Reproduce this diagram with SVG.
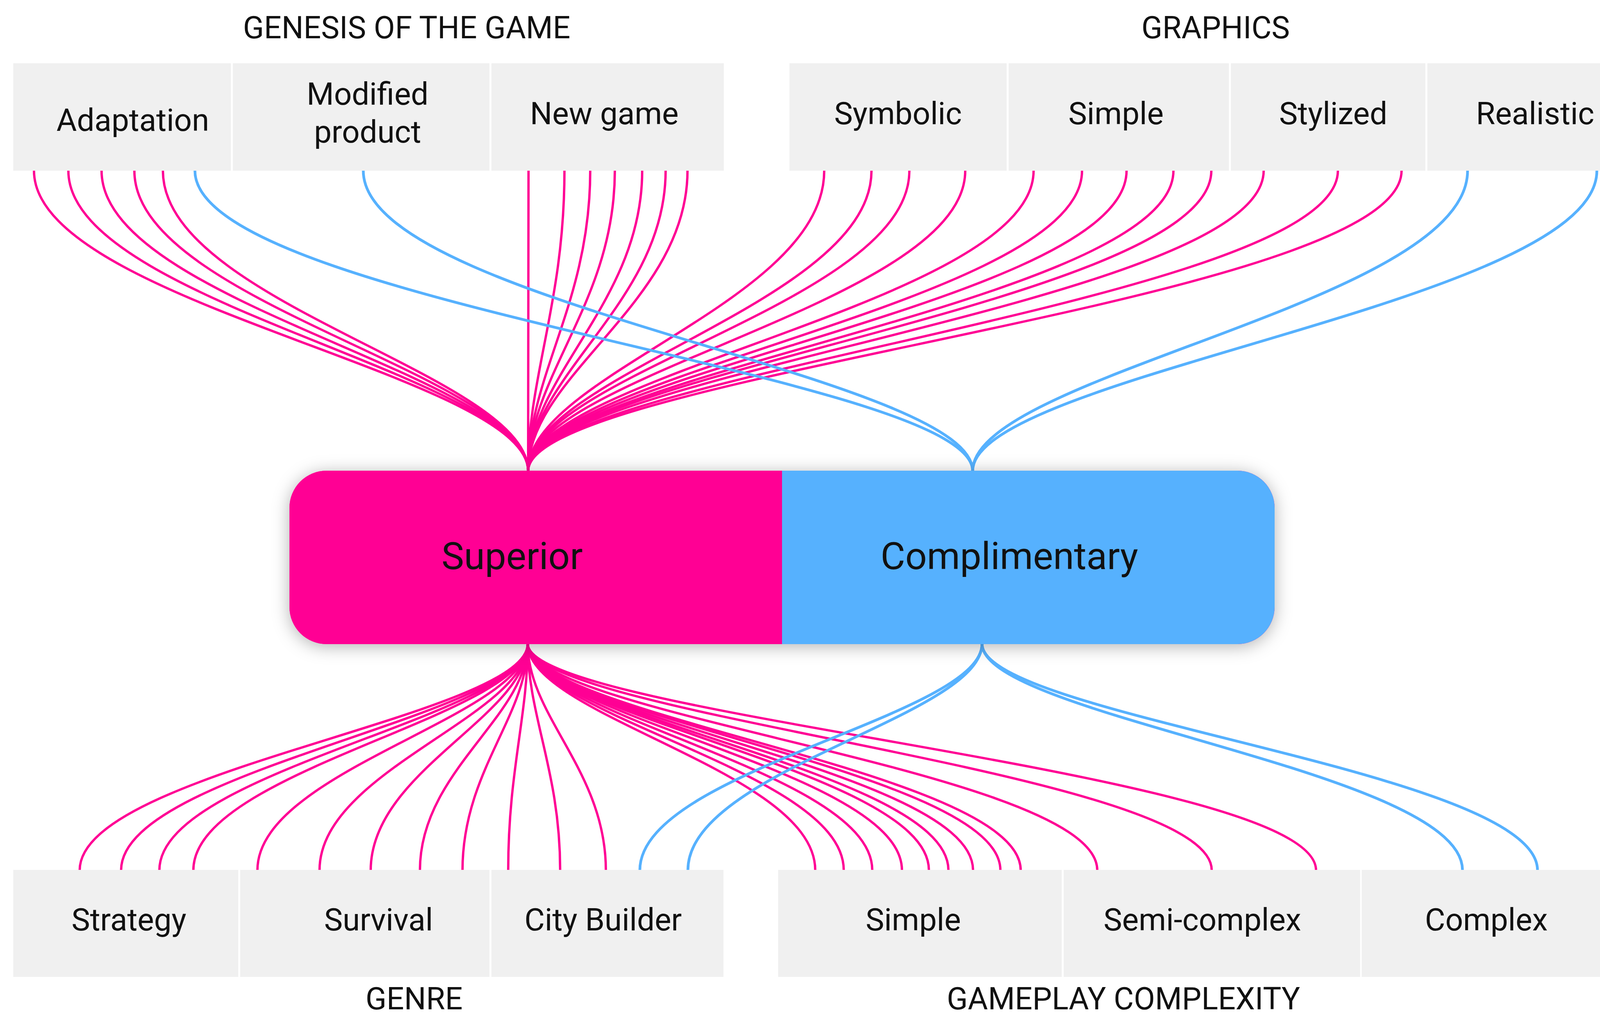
<svg xmlns="http://www.w3.org/2000/svg" width="4233" height="2619" viewBox="0 0 4233 2619">
<defs>
<style>
.box{fill:#f0f0f0}
.t{font-family:Roboto,"Liberation Sans",sans-serif;fill:#111;text-anchor:middle}
.lbl{font-size:80px}
.ttl{font-size:79px}
.big{font-size:97px}
.pk{fill:none;stroke:#FF0094;stroke-width:6}
.bl{fill:none;stroke:#56B1FE;stroke-width:7}
</style>
<filter id="sh" x="-10%" y="-30%" width="120%" height="160%">
<feDropShadow dx="0" dy="6" stdDeviation="22" flood-color="#000" flood-opacity="0.3"/>
</filter>
</defs>
<rect width="4233" height="2619" fill="#fff"/>

<g id="connectors">
<g id="top-pink">
<path class="pk" d="M87 437 C87 775 1352 960 1352 1206"/>
<path class="pk" d="M175 437 C175 775 1352 960 1352 1206"/>
<path class="pk" d="M260 437 C260 775 1352 960 1352 1206"/>
<path class="pk" d="M344 437 C344 775 1352 960 1352 1206"/>
<path class="pk" d="M417 437 C417 775 1352 960 1352 1206"/>
<path class="pk" d="M1353 437 C1353 775 1352 960 1352 1206"/>
<path class="pk" d="M1445 437 C1445 775 1352 960 1352 1206"/>
<path class="pk" d="M1511 437 C1511 775 1352 960 1352 1206"/>
<path class="pk" d="M1574 437 C1574 775 1352 960 1352 1206"/>
<path class="pk" d="M1644 437 C1644 775 1352 960 1352 1206"/>
<path class="pk" d="M1704 437 C1704 775 1352 960 1352 1206"/>
<path class="pk" d="M1760 437 C1760 775 1352 960 1352 1206"/>
<path class="pk" d="M2110 437 C2110 775 1352 960 1352 1206"/>
<path class="pk" d="M2231 437 C2231 775 1352 960 1352 1206"/>
<path class="pk" d="M2328 437 C2328 775 1352 960 1352 1206"/>
<path class="pk" d="M2471 437 C2471 775 1352 960 1352 1206"/>
<path class="pk" d="M2646 437 C2646 775 1352 960 1352 1206"/>
<path class="pk" d="M2770 437 C2770 775 1352 960 1352 1206"/>
<path class="pk" d="M2884 437 C2884 775 1352 960 1352 1206"/>
<path class="pk" d="M3004 437 C3004 775 1352 960 1352 1206"/>
<path class="pk" d="M3101 437 C3101 775 1352 960 1352 1206"/>
<path class="pk" d="M3235 437 C3235 775 1352 960 1352 1206"/>
<path class="pk" d="M3425 437 C3425 775 1352 960 1352 1206"/>
<path class="pk" d="M3588 437 C3588 775 1352 960 1352 1206"/>
</g>
<g id="top-blue">
<path class="bl" d="M499 437 C499 775 2490 960 2490 1206"/>
<path class="bl" d="M930 437 C930 775 2490 960 2490 1206"/>
<path class="bl" d="M3757 437 C3757 775 2490 960 2490 1206"/>
<path class="bl" d="M4088 437 C4088 775 2490 960 2490 1206"/>
</g>
<g id="bottom-pink">
<path class="pk" d="M1351 1648 C1351 1834 204 1973 204 2228"/>
<path class="pk" d="M1351 1648 C1351 1834 310 1973 310 2228"/>
<path class="pk" d="M1351 1648 C1351 1834 408 1973 408 2228"/>
<path class="pk" d="M1351 1648 C1351 1834 495 1973 495 2228"/>
<path class="pk" d="M1351 1648 C1351 1834 659 1973 659 2228"/>
<path class="pk" d="M1351 1648 C1351 1834 818 1973 818 2228"/>
<path class="pk" d="M1351 1648 C1351 1834 949 1973 949 2228"/>
<path class="pk" d="M1351 1648 C1351 1834 1075 1973 1075 2228"/>
<path class="pk" d="M1351 1648 C1351 1834 1184 1973 1184 2228"/>
<path class="pk" d="M1351 1648 C1351 1834 1301 1973 1301 2228"/>
<path class="pk" d="M1351 1648 C1351 1834 1434 1973 1434 2228"/>
<path class="pk" d="M1351 1648 C1351 1834 1551 1973 1551 2228"/>
<path class="pk" d="M1351 1648 C1351 1834 2087 1973 2087 2228"/>
<path class="pk" d="M1351 1648 C1351 1834 2160 1973 2160 2228"/>
<path class="pk" d="M1351 1648 C1351 1834 2233 1973 2233 2228"/>
<path class="pk" d="M1351 1648 C1351 1834 2309 1973 2309 2228"/>
<path class="pk" d="M1351 1648 C1351 1834 2378 1973 2378 2228"/>
<path class="pk" d="M1351 1648 C1351 1834 2428 1973 2428 2228"/>
<path class="pk" d="M1351 1648 C1351 1834 2491 1973 2491 2228"/>
<path class="pk" d="M1351 1648 C1351 1834 2561 1973 2561 2228"/>
<path class="pk" d="M1351 1648 C1351 1834 2613 1973 2613 2228"/>
<path class="pk" d="M1351 1648 C1351 1834 2809 1973 2809 2228"/>
<path class="pk" d="M1351 1648 C1351 1834 3102 1973 3102 2228"/>
<path class="pk" d="M1351 1648 C1351 1834 3369 1973 3369 2228"/>
</g>
<g id="bottom-blue">
<path class="bl" d="M2514 1648 C2514 1834 1638 1973 1638 2228"/>
<path class="bl" d="M2514 1648 C2514 1834 1761 1973 1761 2228"/>
<path class="bl" d="M2514 1648 C2514 1834 3744 1973 3744 2228"/>
<path class="bl" d="M2514 1648 C2514 1834 3936 1973 3936 2228"/>
</g>
</g>

<g id="titles">
<text class="t ttl" x="1041" y="98">GENESIS OF THE GAME</text>
<text class="t ttl" x="3112" y="98">GRAPHICS</text>
<text class="t ttl" x="1060" y="2584">GENRE</text>
<text class="t ttl" x="2876" y="2584">GAMEPLAY COMPLEXITY</text>
</g>

<g id="node-adaptation"><rect class="box" x="34" y="162" width="557" height="275"/><text class="t lbl" x="340" y="335">Adaptation</text></g>
<g id="node-modified"><rect class="box" x="596" y="162" width="657" height="275"/><text class="t lbl" x="941" y="268">Modified</text><text class="t lbl" x="941" y="365">product</text></g>
<g id="node-newgame"><rect class="box" x="1258" y="162" width="595" height="275"/><text class="t lbl" x="1547" y="318">New game</text></g>
<g id="node-symbolic"><rect class="box" x="2021" y="162" width="556" height="275"/><text class="t lbl" x="2299" y="318">Symbolic</text></g>
<g id="node-simple-g"><rect class="box" x="2582" y="162" width="564" height="275"/><text class="t lbl" x="2857" y="318">Simple</text></g>
<g id="node-stylized"><rect class="box" x="3151" y="162" width="498" height="275"/><text class="t lbl" x="3413" y="318">Stylized</text></g>
<g id="node-realistic"><rect class="box" x="3654" y="162" width="550" height="275"/><text class="t lbl" x="3930" y="318">Realistic</text></g>

<g id="node-strategy"><rect class="box" x="34" y="2227" width="576" height="274"/><text class="t lbl" x="330" y="2382">Strategy</text></g>
<g id="node-survival"><rect class="box" x="615" y="2227" width="638" height="274"/><text class="t lbl" x="969" y="2382">Survival</text></g>
<g id="node-city"><rect class="box" x="1258" y="2227" width="594" height="274"/><text class="t lbl" x="1544" y="2382">City Builder</text></g>
<g id="node-simple-c"><rect class="box" x="1992" y="2227" width="726" height="274"/><text class="t lbl" x="2338" y="2382">Simple</text></g>
<g id="node-semi"><rect class="box" x="2723" y="2227" width="759" height="274"/><text class="t lbl" x="3078" y="2382">Semi-complex</text></g>
<g id="node-complex"><rect class="box" x="3486" y="2227" width="683" height="274"/><text class="t lbl" x="3805" y="2382">Complex</text></g>

<g id="node-center">
<rect x="741" y="1205" width="2522" height="444" rx="95" fill="#FF0094" filter="url(#sh)"/>
<path d="M2002 1205 H836 A95 95 0 0 0 741 1300 V1554 A95 95 0 0 0 836 1649 H2002 Z" fill="#FF0094"/>
<path d="M2002 1205 H3168 A95 95 0 0 1 3263 1300 V1554 A95 95 0 0 1 3168 1649 H2002 Z" fill="#56B1FE"/>
<text class="t big" x="1311" y="1457">Superior</text>
<text class="t big" x="2584" y="1457">Complimentary</text>
</g>
</svg>
